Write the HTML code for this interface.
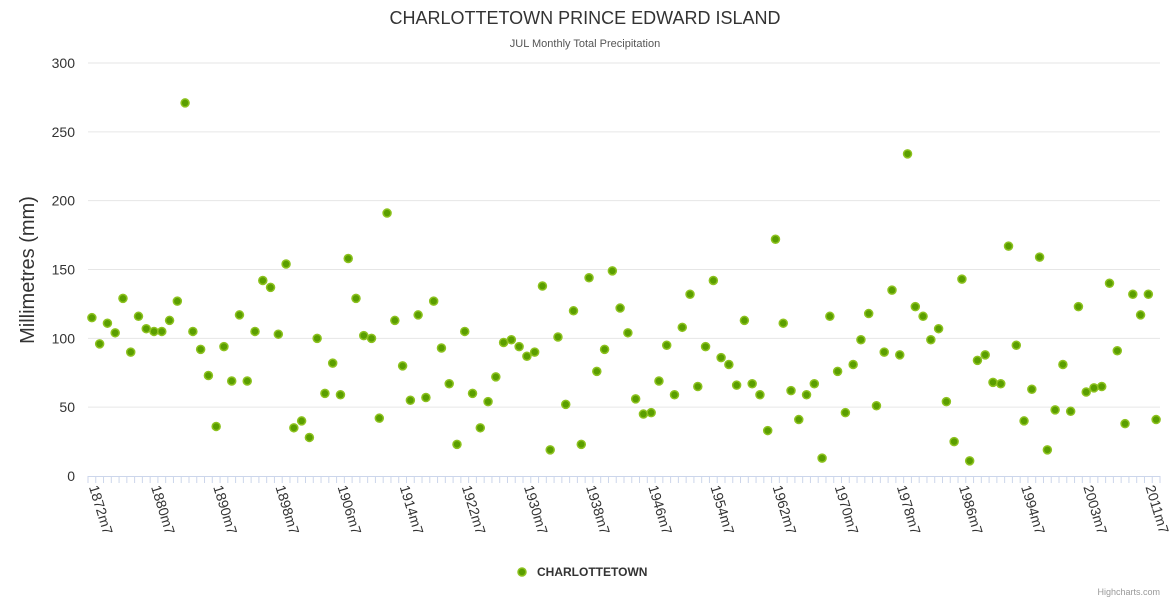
<!DOCTYPE html>
<html><head><meta charset="utf-8"><style>
html,body{margin:0;padding:0;background:#fff;}
svg{display:block;font-family:"Liberation Sans",sans-serif;}
</style></head><body>
<svg id="chart" width="1170" height="600">
<text x="585" y="24" text-anchor="middle" font-size="18" fill="#333">CHARLOTTETOWN PRINCE EDWARD ISLAND</text>
<text x="585" y="47" text-anchor="middle" font-size="11" fill="#555">JUL Monthly Total Precipitation</text>
<text transform="translate(34,270) rotate(-90)" text-anchor="middle" font-size="20" fill="#333">Millimetres (mm)</text>
<g id="grid"></g>
<g id="ylabels"></g>
<g id="xaxis"></g>
<g id="points"></g>
<g>
<circle cx="522" cy="572" r="4" fill="#5a9e00" stroke="#8dc21f" stroke-width="1.5"/>
<text x="537" y="576" font-size="12" font-weight="bold" fill="#333">CHARLOTTETOWN</text>
</g>
<text x="1160" y="595" text-anchor="end" font-size="9" fill="#999">Highcharts.com</text>
</svg>
<script>
const yTicks=[0,50,100,150,200,250,300];
const values=[115,96,111,104,129,90,116,107,105,105,113,127,271,105,92,73,36,94,69,117,69,105,142,137,103,154,35,40,28,100,60,82,59,158,129,102,100,42,191,113,80,55,117,57,127,93,67,23,105,60,35,54,72,97,99,94,87,90,138,19,101,52,120,23,144,76,92,149,122,104,56,45,46,69,95,59,108,132,65,94,142,86,81,66,113,67,59,33,172,111,62,41,59,67,13,116,76,46,81,99,118,51,90,135,88,234,123,116,99,107,54,25,143,11,84,88,68,67,167,95,40,63,159,19,48,81,47,123,61,64,65,140,91,38,132,117,132,41];
const missingYears=[1882,1883,1999];
const categories=[];
for(let y=1872;categories.length<values.length;y++){if(!missingYears.includes(y))categories.push(y+'m7');}
const L=88,R=1160,T=63,B=476,yMax=300;
const n=categories.length,step=(R-L)/n;
const xPos=i=>L+step*(i+0.5);
const yPos=v=>B-(v/yMax)*(B-T);
const NS='http://www.w3.org/2000/svg';
function mk(tag,attrs,parent){const e=document.createElementNS(NS,tag);for(const k in attrs)e.setAttribute(k,attrs[k]);parent.appendChild(e);return e;}
const grid=document.getElementById('grid'),yl=document.getElementById('ylabels'),xa=document.getElementById('xaxis'),pts=document.getElementById('points');
yTicks.forEach(t=>{
  if(t>0){const g=mk('line',{x1:L,x2:R,y1:yPos(t),y2:yPos(t),stroke:'#e6e6e6','stroke-width':1},grid);
  
  }
  const tx=mk('text',{x:75,y:yPos(t)+5,'text-anchor':'end','font-size':14,fill:'#333'},yl);
  tx.textContent=t;
  
  
});
mk('line',{x1:L,x2:R,y1:B+0.5,y2:B+0.5,stroke:'#ccd6eb','stroke-width':1},xa);
for(let i=0;i<=n;i++){const x=L+step*i;mk('line',{x1:x,x2:x,y1:B,y2:B+7,stroke:'#ccd6eb','stroke-width':1},xa);}
categories.forEach((c,i)=>{
  if(i%8!==0)return;
  const x=xPos(i)-3;
  const tx=mk('text',{transform:`translate(${x},487) rotate(73)`,'font-size':14,fill:'#333'},xa);
  tx.textContent=c;
  
  
});
values.forEach((v,i)=>{
  const c=mk('circle',{cx:xPos(i),cy:yPos(v),r:4,fill:'#5a9e00',stroke:'#8dc21f','stroke-width':1.5},pts);
  
  
});
</script>
</body></html>
